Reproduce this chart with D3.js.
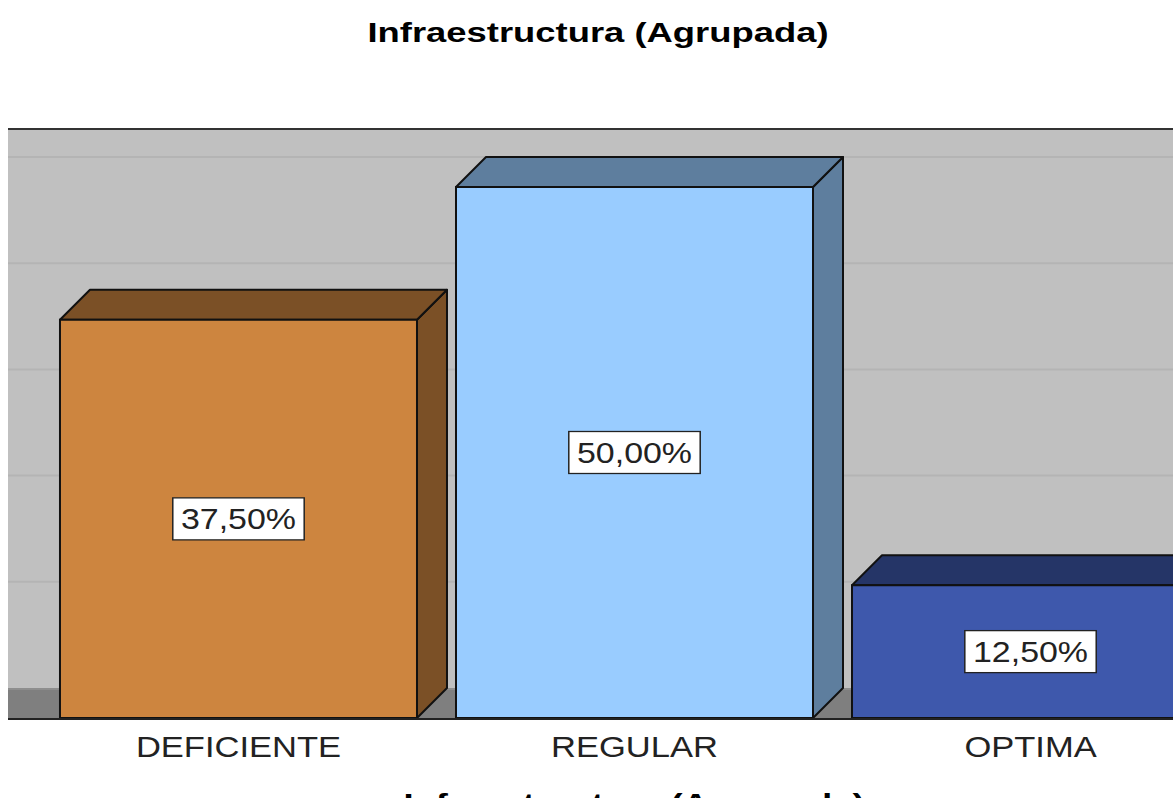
<!doctype html>
<html lang="es">
<head>
<meta charset="utf-8">
<title>Infraestructura (Agrupada)</title>
<script src="https://cdn.jsdelivr.net/npm/d3@7"></script>
<style>
  body { margin: 0; background: #fff; }
  text { font-family: "Liberation Sans", Arial, sans-serif; }
</style>
</head>
<body>
<script>
var categories = ["DEFICIENTE", "REGULAR", "OPTIMA"];
var values = [37.5, 50.0, 12.5];
var valueLabels = ["37,50%", "50,00%", "12,50%"];
var gridTicks = [10, 20, 30, 40, 50];
var frontColors = ["#cd853f", "#99ccff", "#3e58ac"];
var darkColors = ["#7b5026", "#5e7e9e", "#253567"];

var W = 1173, H = 798;
var depth = 30;           // 3d offset of the bars
var wall = {left: 8, top: 129, right: W};
var base = 718;           // front baseline

var x = d3.scaleBand()
    .domain(categories)
    .range([40.5, 40.5 + 3 * 396])
    .paddingInner(0.0985)
    .paddingOuter(0.0492);

var y = d3.scaleLinear()
    .domain([0, 50])
    .range([base, 187]);

var svg = d3.select("body").append("svg")
    .attr("width", W)
    .attr("height", H);

svg.append("rect").attr("width", W).attr("height", H).attr("fill", "#fff");

// back wall
svg.append("rect")
    .attr("x", wall.left).attr("y", wall.top)
    .attr("width", wall.right - wall.left)
    .attr("height", y(0) - depth - wall.top)
    .attr("fill", "#c0c0c0");

svg.selectAll(".grid")
    .data(gridTicks)
    .enter().append("line")
    .attr("class", "grid")
    .attr("x1", wall.left).attr("x2", wall.right)
    .attr("y1", d => y(d) - depth).attr("y2", d => y(d) - depth)
    .attr("stroke", "#b4b4b4")
    .attr("stroke-width", 2);

svg.append("line")
    .attr("x1", wall.left).attr("x2", wall.right)
    .attr("y1", wall.top).attr("y2", wall.top)
    .attr("stroke", "#333").attr("stroke-width", 2);

// floor
svg.append("rect")
    .attr("x", wall.left).attr("y", y(0) - depth)
    .attr("width", wall.right - wall.left)
    .attr("height", depth)
    .attr("fill", "#7f7f7f");
svg.append("line")
    .attr("x1", wall.left).attr("x2", wall.right)
    .attr("y1", y(0) - depth + 1).attr("y2", y(0) - depth + 1)
    .attr("stroke", "#8e8e8e").attr("stroke-width", 2);

// bars
var bars = svg.selectAll(".bar")
    .data(values)
    .enter().append("g")
    .attr("class", "bar");

bars.append("path")
    .attr("d", (d, i) => {
        var x0 = x(categories[i]), x1 = x0 + x.bandwidth(), yt = y(d);
        return "M" + x1 + "," + yt + "L" + (x1 + depth) + "," + (yt - depth) +
               "L" + (x1 + depth) + "," + (y(0) - depth) + "L" + x1 + "," + y(0) + "Z";
    })
    .attr("fill", (d, i) => darkColors[i])
    .attr("stroke", "#111").attr("stroke-width", 2).attr("stroke-linejoin", "round");

bars.append("path")
    .attr("d", (d, i) => {
        var x0 = x(categories[i]), x1 = x0 + x.bandwidth(), yt = y(d);
        return "M" + x0 + "," + yt + "L" + (x0 + depth) + "," + (yt - depth) +
               "L" + (x1 + depth) + "," + (yt - depth) + "L" + x1 + "," + yt + "Z";
    })
    .attr("fill", (d, i) => darkColors[i])
    .attr("stroke", "#111").attr("stroke-width", 2).attr("stroke-linejoin", "round");

bars.append("rect")
    .attr("x", (d, i) => x(categories[i]))
    .attr("y", d => y(d))
    .attr("width", x.bandwidth())
    .attr("height", d => y(0) - y(d))
    .attr("fill", (d, i) => frontColors[i])
    .attr("stroke", "#111").attr("stroke-width", 2);

svg.append("line")
    .attr("x1", wall.left).attr("x2", wall.right)
    .attr("y1", base + 1).attr("y2", base + 1)
    .attr("stroke", "#222").attr("stroke-width", 2);

// value labels
var sxLabel = 1.17;
var lab = bars.append("g")
    .attr("transform", (d, i) => "translate(" + (x(categories[i]) + x.bandwidth() / 2) + "," +
        ((y(d) + y(0)) / 2) + ") scale(" + sxLabel + ",1)");
var labBox = lab.append("rect")
    .attr("fill", "#fff").attr("stroke", "#222").attr("stroke-width", 1.5);
var labText = lab.append("text")
    .attr("text-anchor", "middle")
    .attr("y", 10.5)
    .attr("font-size", 29)
    .attr("fill", "#222")
    .text((d, i) => valueLabels[i]);
labText.each(function(d, i) {
    var w = this.getComputedTextLength() + 14;
    d3.select(labBox.nodes()[i])
        .attr("x", -w / 2).attr("y", -21)
        .attr("width", w).attr("height", 42)
        .attr("stroke-width", 1.5 / sxLabel);
});

// category labels
svg.selectAll(".cat")
    .data(categories)
    .enter().append("text")
    .attr("class", "cat")
    .attr("text-anchor", "middle")
    .attr("font-size", 29)
    .attr("fill", "#222")
    .attr("transform", d => "translate(" + (x(d) + x.bandwidth() / 2) + ",757) scale(1.19,1)")
    .text(d => d);

// titles
svg.append("text")
    .attr("text-anchor", "middle")
    .attr("font-size", 28)
    .attr("font-weight", "bold")
    .attr("transform", "translate(598,42) scale(1.3,1)")
    .text("Infraestructura (Agrupada)");

// axis title, cut off by the bottom edge as in the original
svg.append("text")
    .attr("text-anchor", "middle")
    .attr("font-size", 28)
    .attr("font-weight", "bold")
    .attr("transform", "translate(634,813) scale(1.3,1)")
    .text("Infraestructura (Agrupada)");
</script>
</body>
</html>
